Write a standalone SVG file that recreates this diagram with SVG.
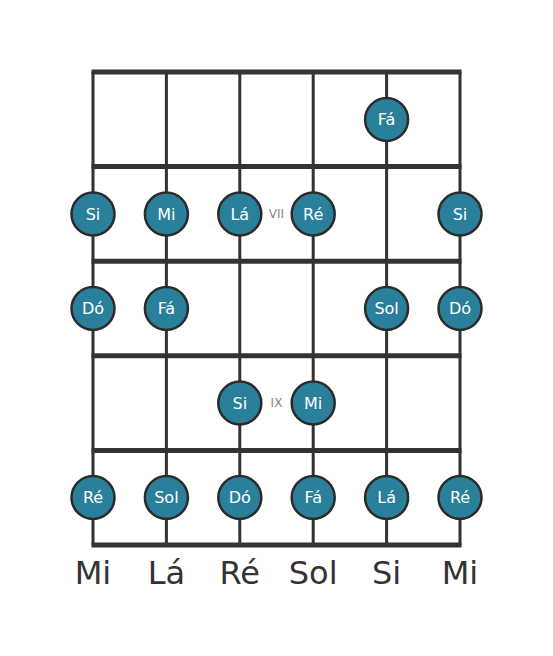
<svg xmlns="http://www.w3.org/2000/svg" width="553" height="656" viewBox="0 0 553 656">
<style>
.str{stroke:#333;stroke-width:3;fill:none}
.fret{stroke:#333;stroke-width:5;fill:none}
.note circle{fill:#2a7f9b;stroke:#2b2b2b;stroke-width:2.5}
.note text{fill:#fff;font-family:"DejaVu Sans",sans-serif;font-size:16px;text-anchor:middle;dominant-baseline:central}
.pos{fill:#888;font-family:"DejaVu Sans",sans-serif;font-size:12px;text-anchor:middle;dominant-baseline:central}
.lbl{fill:#333;font-family:"DejaVu Sans",sans-serif;font-size:32px;text-anchor:middle}
</style>
<rect width="553" height="656" fill="#fff"/>
<g id="connectors">
<line class="str" x1="93" y1="72" x2="93" y2="545"/>
<line class="str" x1="166.4" y1="72" x2="166.4" y2="545"/>
<line class="str" x1="239.8" y1="72" x2="239.8" y2="545"/>
<line class="str" x1="313.2" y1="72" x2="313.2" y2="545"/>
<line class="str" x1="386.6" y1="72" x2="386.6" y2="545"/>
<line class="str" x1="460" y1="72" x2="460" y2="545"/>
<line class="fret" x1="91.5" y1="72" x2="461.5" y2="72"/>
<line class="fret" x1="91.5" y1="166.6" x2="461.5" y2="166.6"/>
<line class="fret" x1="91.5" y1="261.2" x2="461.5" y2="261.2"/>
<line class="fret" x1="91.5" y1="355.8" x2="461.5" y2="355.8"/>
<line class="fret" x1="91.5" y1="450.4" x2="461.5" y2="450.4"/>
<line class="fret" x1="91.5" y1="545" x2="461.5" y2="545"/>
</g>
<text class="pos" x="276.5" y="214">VII</text>
<text class="pos" x="276.5" y="403">IX</text>
<g id="n1" class="note"><circle cx="386.6" cy="119.5" r="21.5"/><text x="386.6" y="119.5">Fá</text></g>
<g id="n2" class="note"><circle cx="93" cy="214" r="21.5"/><text x="93" y="214">Si</text></g>
<g id="n3" class="note"><circle cx="166.4" cy="214" r="21.5"/><text x="166.4" y="214">Mi</text></g>
<g id="n4" class="note"><circle cx="239.8" cy="214" r="21.5"/><text x="239.8" y="214">Lá</text></g>
<g id="n5" class="note"><circle cx="313.2" cy="214" r="21.5"/><text x="313.2" y="214">Ré</text></g>
<g id="n6" class="note"><circle cx="460" cy="214" r="21.5"/><text x="460" y="214">Si</text></g>
<g id="n7" class="note"><circle cx="93" cy="308.5" r="21.5"/><text x="93" y="308.5">Dó</text></g>
<g id="n8" class="note"><circle cx="166.4" cy="308.5" r="21.5"/><text x="166.4" y="308.5">Fá</text></g>
<g id="n9" class="note"><circle cx="386.6" cy="308.5" r="21.5"/><text x="386.6" y="308.5">Sol</text></g>
<g id="n10" class="note"><circle cx="460" cy="308.5" r="21.5"/><text x="460" y="308.5">Dó</text></g>
<g id="n11" class="note"><circle cx="239.8" cy="403" r="21.5"/><text x="239.8" y="403">Si</text></g>
<g id="n12" class="note"><circle cx="313.2" cy="403" r="21.5"/><text x="313.2" y="403">Mi</text></g>
<g id="n13" class="note"><circle cx="93" cy="497.5" r="21.5"/><text x="93" y="497.5">Ré</text></g>
<g id="n14" class="note"><circle cx="166.4" cy="497.5" r="21.5"/><text x="166.4" y="497.5">Sol</text></g>
<g id="n15" class="note"><circle cx="239.8" cy="497.5" r="21.5"/><text x="239.8" y="497.5">Dó</text></g>
<g id="n16" class="note"><circle cx="313.2" cy="497.5" r="21.5"/><text x="313.2" y="497.5">Fá</text></g>
<g id="n17" class="note"><circle cx="386.6" cy="497.5" r="21.5"/><text x="386.6" y="497.5">Lá</text></g>
<g id="n18" class="note"><circle cx="460" cy="497.5" r="21.5"/><text x="460" y="497.5">Ré</text></g>
<g id="labels">
<text class="lbl" x="93" y="584">Mi</text>
<text class="lbl" x="166.4" y="584">Lá</text>
<text class="lbl" x="239.8" y="584">Ré</text>
<text class="lbl" x="313.2" y="584">Sol</text>
<text class="lbl" x="386.6" y="584">Si</text>
<text class="lbl" x="460" y="584">Mi</text>
</g>
</svg>
